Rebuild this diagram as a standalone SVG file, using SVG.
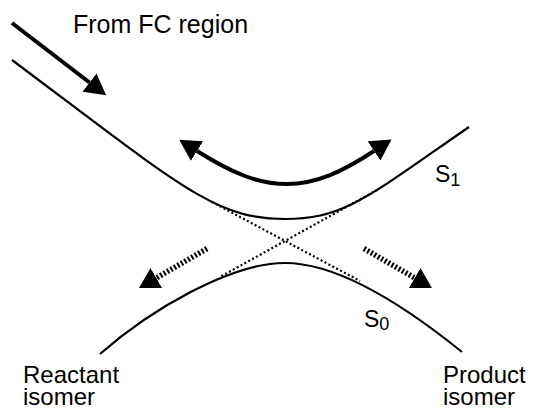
<svg xmlns="http://www.w3.org/2000/svg" width="534" height="410" viewBox="0 0 534 410">
  <style>
    .lbl { font-family: "Liberation Sans", Arial, sans-serif; fill: #000; }
    .surface { fill: none; stroke: #000; stroke-width: 2.2; }
    .diabat { fill: none; stroke: #000; stroke-width: 2.2; stroke-dasharray: 2 2.4; }
    .motion { fill: none; stroke: #000; stroke-width: 4; }
    .decay { fill: none; stroke: #000; stroke-width: 5.5; stroke-dasharray: 2 2; }
  </style>
  <defs>
    <marker id="head" markerUnits="userSpaceOnUse" markerWidth="21" markerHeight="23" viewBox="0 0 21 23" refX="0" refY="11.5" orient="auto-start-reverse">
      <path d="M0,0 L21,11.5 L0,23 Z" fill="#000"/>
    </marker>
    <!-- equilateral head for the decay arrows -->
    <marker id="tri" markerUnits="userSpaceOnUse" markerWidth="20" markerHeight="23" viewBox="0 0 20 23" refX="0" refY="11.5" orient="auto">
      <path d="M0,0 L20,11.5 L0,23 Z" fill="#000"/>
    </marker>
  </defs>

  <!-- potential energy surfaces -->
  <g id="s1-surface">
    <path class="surface" d="M12,60 C182,187.5 215,219 285,219 C345,219 369,196 469,127"/>
    <text class="lbl" x="435" y="182" font-size="23">S<tspan font-size="18" dy="4">1</tspan></text>
  </g>
  <g id="s0-surface">
    <path class="surface" d="M100,354 C150,310 230,263 285,263 C340,263 410,310 462,352"/>
    <text class="lbl" x="364" y="327" font-size="23">S<tspan font-size="18" dy="3">0</tspan></text>
  </g>

  <!-- diabatic crossing -->
  <g id="crossing">
    <path class="diabat" d="M212,202 L360,281"/>
    <path class="diabat" d="M377,190 L220,277"/>
  </g>

  <g id="labels">
    <text class="lbl" x="73" y="33" font-size="25">From FC region</text>
    <text class="lbl" x="23" y="383" font-size="24">Reactant</text>
    <text class="lbl" x="23" y="405" font-size="24">isomer</text>
    <text class="lbl" x="443" y="383" font-size="24">Product</text>
    <text class="lbl" x="443" y="405" font-size="24">isomer</text>
  </g>

  <!-- arrows -->
  <g id="connectors">
    <path class="motion" d="M12,23 L89.5,82.5" marker-end="url(#head)"/>
    <path class="motion" d="M197,151 C232,173 258,184 287,184 C316,184 342,172 374,151" marker-start="url(#head)" marker-end="url(#head)"/>
    <path class="decay" d="M207,248.5 L156.3,278" marker-end="url(#tri)"/>
    <path class="decay" d="M364,248.5 L414.7,278" marker-end="url(#tri)"/>
  </g>
</svg>
